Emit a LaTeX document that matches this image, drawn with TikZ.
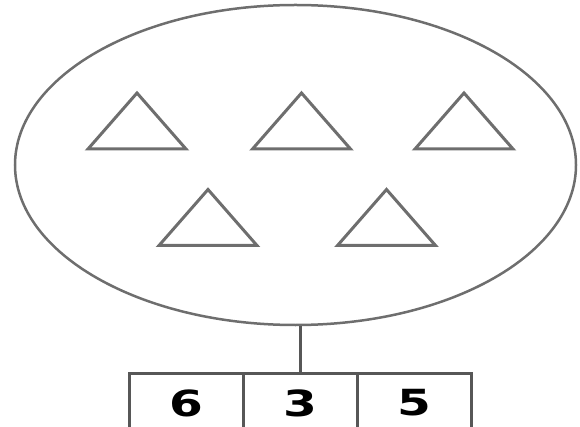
\documentclass[tikz,border=0pt]{standalone}
\usepackage{fontspec}
\usepackage{graphicx}
\usetikzlibrary{shapes.geometric,positioning}
\newfontfamily\digitfont{DejaVu Sans}
\definecolor{outline}{HTML}{6E6E6E}
\definecolor{boxline}{HTML}{575757}

\begin{document}
\begin{tikzpicture}[x=1pt,y=-1pt,
  tri/.pic={\draw[outline,line width=3pt] (-49,28) -- (0,-28) -- (49,28) -- cycle;},
  cell/.style={draw=boxline,line width=3pt,outer sep=0pt,inner sep=0pt,
    minimum width=114pt,minimum height=60pt,
    font=\digitfont\bfseries\fontsize{36}{36}\selectfont}]
  \useasboundingbox (0,0) rectangle (580,427);

  % the set
  \node[ellipse,draw=outline,line width=2.5pt,inner sep=0pt,
    minimum width=561pt,minimum height=320pt] (set) at (295.5,165) {};
  \pic at (137,121) {tri};
  \pic at (301.5,121) {tri};
  \pic at (464,121) {tri};
  \pic at (208,217.5) {tri};
  \pic at (386.5,217.5) {tri};

  % the number 635
  \node[cell] (mid) at (300.5,403) {\scalebox{1.35}[1]{3}};
  \node[cell,left=0pt of mid] (hundreds) {\scalebox{1.35}[1]{6}};
  \node[cell,right=0pt of mid] (units) {\scalebox{1.35}[1]{5}};
  \draw[boxline,line width=3pt] (mid.north) -- (mid.north |- set.south);
\end{tikzpicture}
\end{document}
